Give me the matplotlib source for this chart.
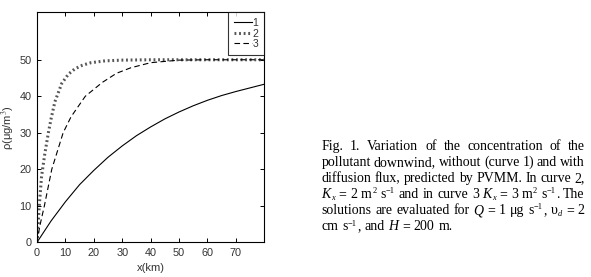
import matplotlib
matplotlib.use("Agg")
import matplotlib.pyplot as plt

# Data
x1 = [0, 5, 10, 15, 20, 25, 30, 35, 40, 45, 50, 55, 60, 65, 70, 75, 80]
y1 = [0, 5.9, 11.1, 15.8, 19.7, 23.3, 26.4, 29.2, 31.6, 33.8, 35.7, 37.4, 38.9, 40.2, 41.3, 42.3, 43.3]

x2 = [0, 0.4, 0.8, 1.6, 2.7, 4, 5, 6.3, 8.7, 11, 13.3, 16, 19, 24, 30, 40, 60, 80]
y2 = [0, 5, 10, 18, 24, 30, 34, 38.5, 43.5, 46, 47.5, 48.5, 49.2, 49.7, 49.9, 50, 50, 50]

x3 = [0, 1, 2.6, 5.2, 9.2, 12, 17, 23, 28, 33, 40, 50, 60, 80]
y3 = [0, 4.5, 10, 20, 30, 34.4, 40, 43.8, 46.3, 47.8, 49.2, 49.9, 50, 50]

labels = ["1", "2", "3"]
xticks = [0, 10, 20, 30, 40, 50, 60, 70]
yticks = [0, 10, 20, 30, 40, 50]

# Caption: each line is a list of words, each word a list of (text, style)
# styles: n = normal, i = italic, sup = superscript, sub = italic subscript
def plain(s):
    return [[(w, 'n')] for w in s.split(' ')]

caption = [
    plain("Fig. 1. Variation of the concentration of the"),
    plain("pollutant downwind, without (curve 1) and with"),
    plain("diffusion flux, predicted by PVMM. In curve 2,"),
    [[("K", 'i'), ("x", 'sub')], [("=", 'n')], [("2", 'n')], [("m", 'n'), ("2", 'sup')],
     [("s", 'n'), ("\u22121", 'sup')]] + plain("and in curve 3") +
    [[("K", 'i'), ("x", 'sub')], [("=", 'n')], [("3", 'n')], [("m", 'n'), ("2", 'sup')],
     [("s", 'n'), ("\u22121", 'sup'), (".", 'n')], [("The", 'n')]],
    plain("solutions are evaluated for") +
    [[("Q", 'i')], [("=", 'n')], [("1", 'n')], [("\u03bcg", 'n')],
     [("s", 'n'), ("\u22121", 'sup'), (",", 'n')], [("\u03c5", 'n'), ("d", 'sub')],
     [("=", 'n')], [("2", 'n')]],
    [[("cm", 'n')], [("s", 'n'), ("\u22121", 'sup'), (",", 'n')], [("and", 'n')],
     [("H", 'i')], [("=", 'n')], [("200", 'n')], [("m.", 'n')]],
]

plt.rcParams['font.family'] = ['Liberation Sans', 'DejaVu Sans']
plt.rcParams['mathtext.fontset'] = 'stix'

fig = plt.figure(figsize=(5.91, 2.77), dpi=100)
ax = fig.add_axes([0.0626, 0.1253, 0.3846, 0.8303])

ax.plot(x1, y1, color='black', lw=0.8, linestyle='-', label=labels[0])
ax.plot(x2, y2, color='#555555', lw=2.2, linestyle=(0, (0.6, 0.9)), label=labels[1])
ax.plot(x3, y3, color='black', lw=0.8, linestyle=(0, (5, 3)), label=labels[2])

ax.set_xlim(0, 80)
ax.set_ylim(0, 63)
ax.set_xticks(xticks)
ax.set_yticks(yticks)
ax.tick_params(direction='in', top=True, right=True, labelsize=7.8, length=3,
               width=0.7, color='black', labelcolor='#333333', pad=4)
for s in ax.spines.values():
    s.set_linewidth(0.8)
ax.set_xlabel("x(km)", fontsize=8, color='#333333', labelpad=4)
ax.set_ylabel("ρ(μg/m$^3$)", fontsize=8, color='#333333', labelpad=2)

leg = ax.legend(loc='upper right', fontsize=7.5, frameon=True, fancybox=False,
                edgecolor='black', handlelength=1.7, handletextpad=0.1,
                borderpad=0.55, labelspacing=0.05, borderaxespad=0.0)
leg.get_frame().set_linewidth(0.8)
for t in leg.get_texts():
    t.set_color('#333333')

# caption, justified like the reference
fig.canvas.draw()
renderer = fig.canvas.get_renderer()
W = fig.bbox.width
H = fig.bbox.height
x_left = 321.5
x_right = 585.0
serif = ['Liberation Serif', 'DejaVu Serif']
fs = 10.0
px_per_pt = 100 / 72.0

def make_seg(txt, style, ybase):
    if style == 'n':
        t = fig.text(0, ybase, txt, fontsize=fs, family=serif, va='baseline', ha='left')
        off = 0
    elif style == 'i':
        t = fig.text(0, ybase, txt, fontsize=fs, family=serif, style='italic',
                     va='baseline', ha='left')
        off = 0
    elif style == 'sup':
        off = 0.36 * fs * px_per_pt
        t = fig.text(0, ybase + off / H, txt, fontsize=fs * 0.6, family=serif,
                     va='baseline', ha='left')
    else:
        off = -0.15 * fs * px_per_pt
        t = fig.text(0, ybase + off / H, txt, fontsize=fs * 0.6, family=serif,
                     style='italic', va='baseline', ha='left')
    return t

space_w = 0.25 * fs * px_per_pt
for i, words in enumerate(caption):
    ybase = 1 - (150 + i * 16.1) / H
    word_items = []
    word_widths = []
    for w in words:
        segs = []
        ww = 0
        for txt, style in w:
            t = make_seg(txt, style, ybase)
            wid = t.get_window_extent(renderer).width
            segs.append((t, ww))
            ww += wid + 0.3
        word_items.append(segs)
        word_widths.append(ww)
    total = sum(word_widths)
    if i == len(caption) - 1:
        gap = space_w
    else:
        gap = (x_right - x_left - total) / (len(words) - 1)
    xpos = x_left
    for segs, ww in zip(word_items, word_widths):
        for t, dx in segs:
            t.set_x((xpos + dx) / W)
        xpos += ww + gap

fig.savefig("out.png", dpi=100)
